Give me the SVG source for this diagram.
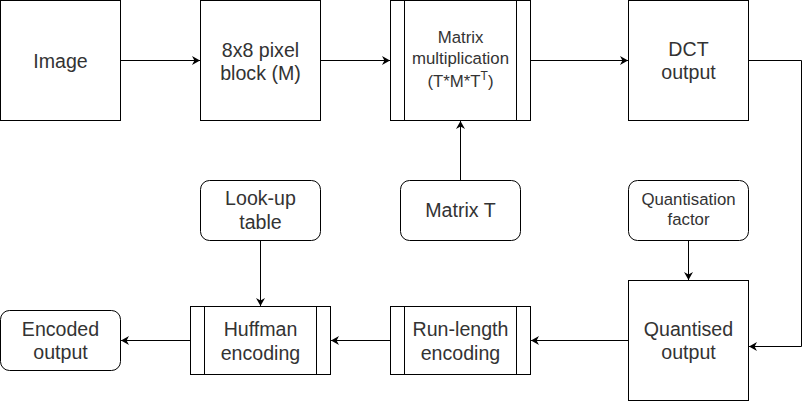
<svg xmlns="http://www.w3.org/2000/svg" width="810" height="402" viewBox="0 0 810 402">
<style>
.box{fill:#fff;stroke:#000;stroke-width:1}
.t{font-family:"Liberation Sans",Arial,sans-serif;font-size:19.6px;fill:#333;text-anchor:middle}
.s{font-size:16.8px}
.c{fill:none;stroke:#000;stroke-width:1}
</style>
<defs>
<marker id="a" markerUnits="userSpaceOnUse" markerWidth="9" markerHeight="10" viewBox="0 0 9 10" refX="8" refY="5" orient="auto">
<path d="M0,0.5 L8,5 L0,9.5 L2.4,5 Z" fill="#000"/>
</marker>
</defs>
<rect width="810" height="402" fill="#fff"/>
<g id="connectors">
<path class="c" d="M120.5,60.5 H200" marker-end="url(#a)"/>
<path class="c" d="M320.5,60.5 H390" marker-end="url(#a)"/>
<path class="c" d="M530.5,60.5 H628" marker-end="url(#a)"/>
<path class="c" d="M748.5,60.5 H801.5 V346.5 H749" marker-end="url(#a)"/>
<path class="c" d="M460.5,180.5 V121" marker-end="url(#a)"/>
<path class="c" d="M688.5,240.5 V280" marker-end="url(#a)"/>
<path class="c" d="M628.5,340.5 H531" marker-end="url(#a)"/>
<path class="c" d="M390.5,340.5 H331" marker-end="url(#a)"/>
<path class="c" d="M260.5,240.5 V306" marker-end="url(#a)"/>
<path class="c" d="M190.5,340.5 H121" marker-end="url(#a)"/>
</g>
<g id="image">
<rect class="box" x="0.5" y="0.5" width="120" height="120"/>
<text class="t" x="60.5" y="67.5">Image</text>
</g>
<g id="block">
<rect class="box" x="200.5" y="0.5" width="120" height="120"/>
<text class="t" x="260.5" y="56.5">8x8 pixel</text>
<text class="t" x="260.5" y="80">block (M)</text>
</g>
<g id="matrixmult">
<rect class="box" x="390.5" y="0.5" width="140" height="120"/>
<path class="c" d="M404.5,0.5 V120.5 M516.5,0.5 V120.5"/>
<text class="t s" x="460.5" y="43.3">Matrix</text>
<text class="t s" x="460.5" y="63.5">multiplication</text>
<text class="t s" x="460.5" y="87">(T*M*T<tspan font-size="12" dy="-7">T</tspan><tspan dy="7">)</tspan></text>
</g>
<g id="dct">
<rect class="box" x="628.5" y="0.5" width="120" height="120"/>
<text class="t" x="688.5" y="55.5">DCT</text>
<text class="t" x="688.5" y="79">output</text>
</g>
<g id="matrixT">
<rect class="box" x="400.5" y="180.5" width="120" height="60" rx="9"/>
<text class="t" x="460.5" y="217">Matrix T</text>
</g>
<g id="lookup">
<rect class="box" x="200.5" y="180.5" width="120" height="60" rx="9"/>
<text class="t" x="260.5" y="205">Look-up</text>
<text class="t" x="260.5" y="228.5">table</text>
</g>
<g id="qfactor">
<rect class="box" x="628.5" y="180.5" width="120" height="60" rx="9"/>
<text class="t s" x="688.5" y="205">Quantisation</text>
<text class="t s" x="688.5" y="224.5">factor</text>
</g>
<g id="quantised">
<rect class="box" x="628.5" y="280.5" width="120" height="120"/>
<text class="t" x="688.5" y="335.7">Quantised</text>
<text class="t" x="688.5" y="359">output</text>
</g>
<g id="rle">
<rect class="box" x="390.5" y="306.5" width="140" height="68"/>
<path class="c" d="M404.5,306.5 V374.5 M516.5,306.5 V374.5"/>
<text class="t" x="460.5" y="336">Run-length</text>
<text class="t" x="460.5" y="359.5">encoding</text>
</g>
<g id="huffman">
<rect class="box" x="190.5" y="306.5" width="140" height="68"/>
<path class="c" d="M204.5,306.5 V374.5 M316.5,306.5 V374.5"/>
<text class="t" x="260.5" y="336">Huffman</text>
<text class="t" x="260.5" y="359.5">encoding</text>
</g>
<g id="encoded">
<rect class="box" x="0.5" y="310.5" width="120" height="60" rx="9"/>
<text class="t" x="60.5" y="336">Encoded</text>
<text class="t" x="60.5" y="358.5">output</text>
</g>
</svg>
